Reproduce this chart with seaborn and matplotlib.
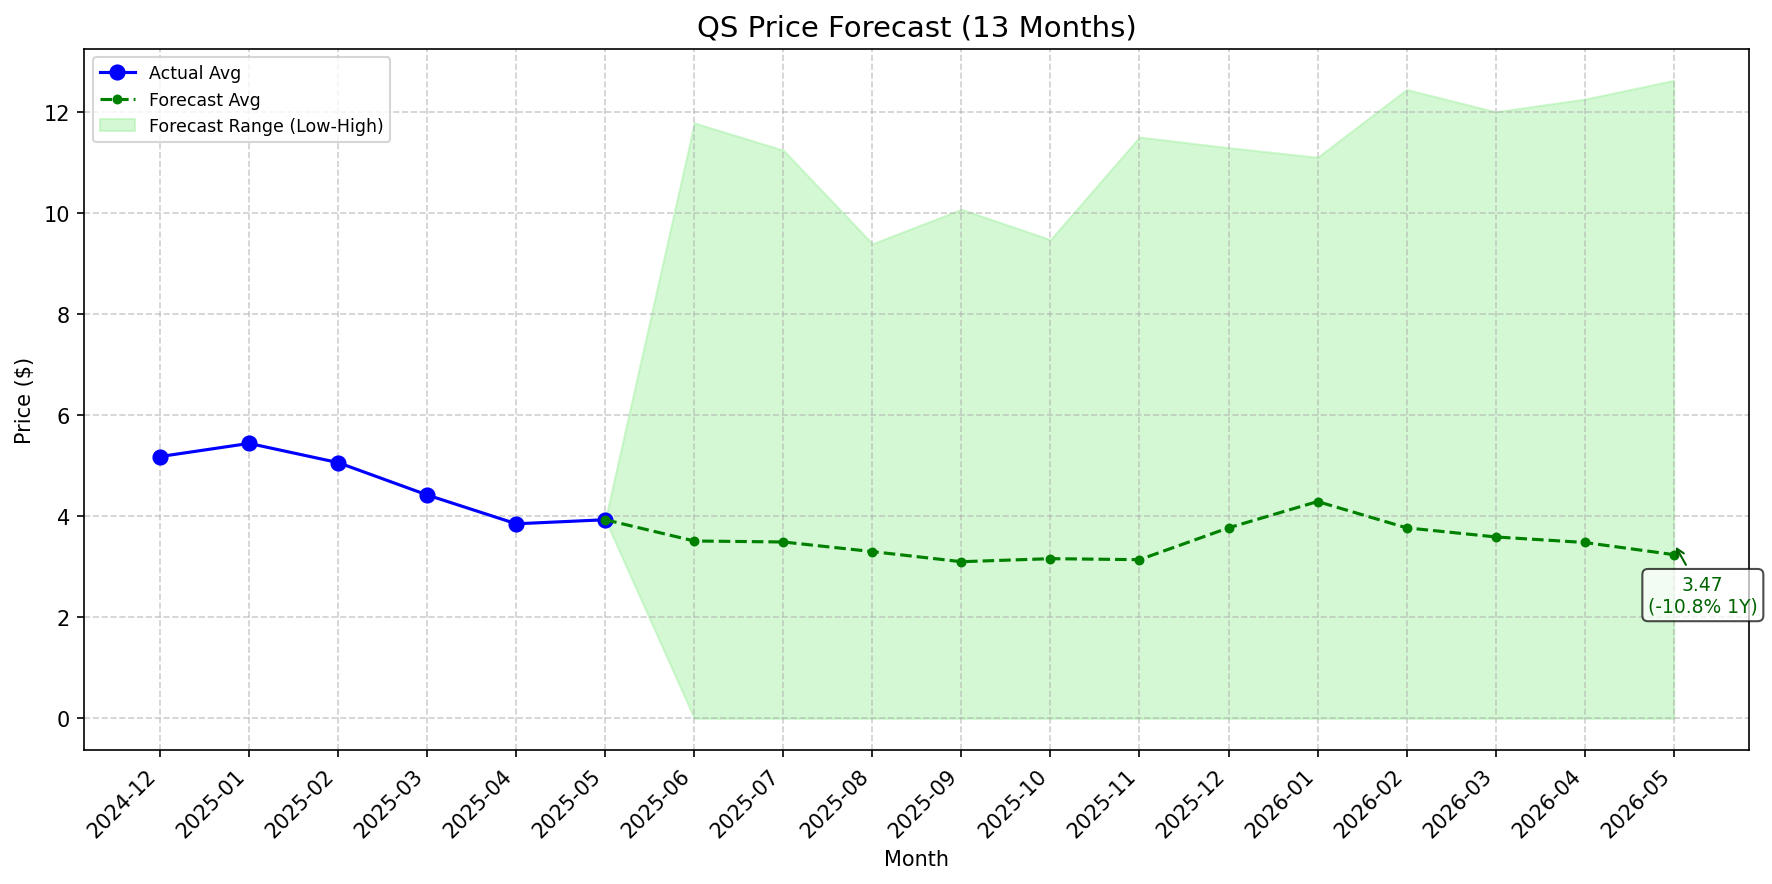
import matplotlib
matplotlib.use("Agg")
import matplotlib.pyplot as plt
import seaborn as sns
import pandas as pd

months = ["2024-12", "2025-01", "2025-02", "2025-03", "2025-04", "2025-05",
          "2025-06", "2025-07", "2025-08", "2025-09", "2025-10", "2025-11",
          "2025-12", "2026-01", "2026-02", "2026-03", "2026-04", "2026-05"]
actual_months = months[:6]
actual_avg = [5.18, 5.44, 5.06, 4.42, 3.85, 3.93]
forecast_months = months[5:]
forecast_avg = [3.93, 3.51, 3.49, 3.30, 3.10, 3.16, 3.14, 3.77, 4.29, 3.77, 3.59, 3.48, 3.24]
forecast_low = [3.93, 0, 0, 0, 0, 0, 0, 0, 0, 0, 0, 0, 0]
forecast_high = [3.93, 11.78, 11.24, 9.39, 10.07, 9.47, 11.50, 11.29, 11.10, 12.44, 12.00, 12.25, 12.62]
annot_value = 3.47
annot_text = "3.47\n(-10.8% 1Y)"

pos = {m: i for i, m in enumerate(months)}
df_a = pd.DataFrame({"x": [pos[m] for m in actual_months], "y": actual_avg})
df_f = pd.DataFrame({"x": [pos[m] for m in forecast_months], "y": forecast_avg,
                     "lo": forecast_low, "hi": forecast_high})

fig, ax = plt.subplots(figsize=(12, 6), dpi=150)

sns.lineplot(data=df_a, x="x", y="y", ax=ax, color="blue", marker="o",
             markersize=7, markeredgecolor="blue", linewidth=1.5, label="Actual Avg")
sns.lineplot(data=df_f, x="x", y="y", ax=ax, color="green", marker="o",
             markersize=4, markeredgecolor="green", linestyle="--", linewidth=1.5,
             label="Forecast Avg")
ax.fill_between(df_f["x"], df_f["lo"], df_f["hi"], color="lightgreen", alpha=0.38,
                label="Forecast Range (Low-High)")

ax.set_xticks(range(len(months)))
ax.set_xticklabels(months, rotation=45, ha="right")
ax.set_xlim(-0.85, len(months) - 1 + 0.85)
ax.grid(True, linestyle="--", alpha=0.6)
ax.set_title("QS Price Forecast (13 Months)", fontsize=14)
ax.set_xlabel("Month")
ax.set_ylabel("Price ($)")
ax.legend(loc="upper left", fontsize="small")

ax.annotate(annot_text, xy=(pos[forecast_months[-1]], annot_value),
            xytext=(14, -25), textcoords="offset points", ha="center", va="center",
            color="darkgreen", fontsize=9,
            bbox=dict(boxstyle="round,pad=0.3", fc="white", ec="black", alpha=0.7),
            arrowprops=dict(arrowstyle="->", color="darkgreen"))

plt.tight_layout()
fig.savefig("out.png", dpi=150, bbox_inches="tight")
